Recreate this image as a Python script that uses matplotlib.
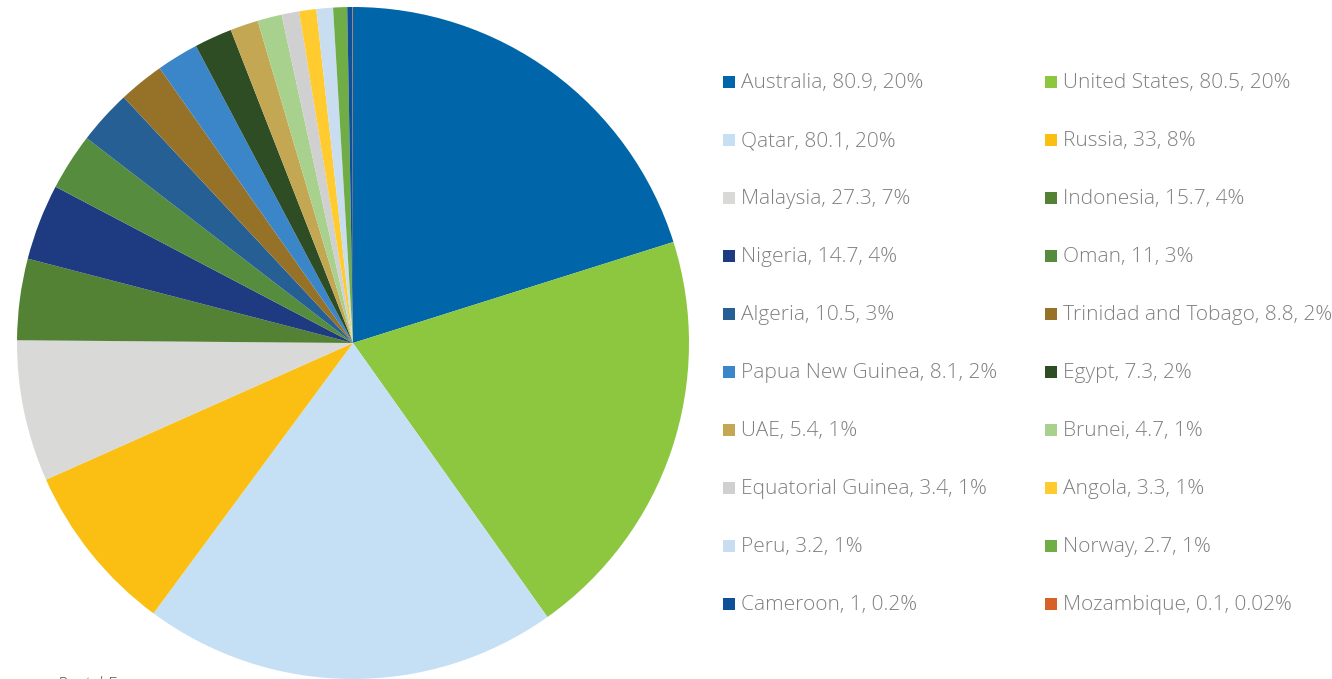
import matplotlib
matplotlib.use("Agg")
import matplotlib.pyplot as plt
from matplotlib.patches import Rectangle

W, H = 1332, 679

countries = ["Australia", "United States", "Qatar", "Russia", "Malaysia", "Indonesia",
             "Nigeria", "Oman", "Algeria", "Trinidad and Tobago", "Papua New Guinea", "Egypt",
             "UAE", "Brunei", "Equatorial Guinea", "Angola", "Peru", "Norway",
             "Cameroon", "Mozambique"]
values = [80.9, 80.5, 80.1, 33, 27.3, 15.7, 14.7, 11, 10.5, 8.8, 8.1, 7.3,
          5.4, 4.7, 3.4, 3.3, 3.2, 2.7, 1, 0.1]
shares = ["20%", "20%", "20%", "8%", "7%", "4%", "4%", "3%", "3%", "2%", "2%", "2%",
          "1%", "1%", "1%", "1%", "1%", "1%", "0.2%", "0.02%"]
colors = ["#0065A9", "#8DC63F", "#C5E0F4", "#FBBF13", "#D9D9D7", "#548235",
          "#1E3A80", "#568C3E", "#265F93", "#967229", "#3A86C8", "#2F4D24",
          "#C4A753", "#A9D18E", "#D0D0D0", "#FFCB2E", "#C8DEF0", "#70AD47",
          "#0E4F9A", "#D6622A"]

plt.rcParams["font.family"] = ["Open Sans", "DejaVu Sans"]

fig = plt.figure(figsize=(W / 100, H / 100), dpi=100)

# pie: centre (353, 343) px, radius 336 px
cx, cy, r = 353, 343, 336
ax = fig.add_axes([(cx - r) / W, (H - cy - r) / H, 2 * r / W, 2 * r / H])
ax.pie(values, colors=colors, startangle=90, counterclock=False, radius=1,
       wedgeprops={"linewidth": 0})
ax.set_xlim(-1, 1)
ax.set_ylim(-1, 1)
ax.set_aspect("equal")
ax.set_clip_on(False)
ax.axis("off")

# legend, two columns filled row by row
for i, (name, v, s, c) in enumerate(zip(countries, values, shares, colors)):
    row, col = divmod(i, 2)
    x = 723 if col == 0 else 1045
    y = 82 + 58 * row
    fig.add_artist(Rectangle((x / W, 1 - (y + 6) / H), 12 / W, 12 / H,
                             transform=fig.transFigure, color=c, lw=0))
    fig.text((x + 18) / W, 1 - (y + 1) / H, f"{name}, {v:g}, {s}", fontsize=15,
             fontweight="light", color="#808080", va="center", ha="left")

# source note, cut off at the bottom edge as in the original
fig.text(57 / W, 1 - 685 / H, "Pastel Energy", fontsize=13, style="italic",
         fontweight="light", color="#595959", va="center", ha="left")

fig.savefig("out.png", dpi=100)
